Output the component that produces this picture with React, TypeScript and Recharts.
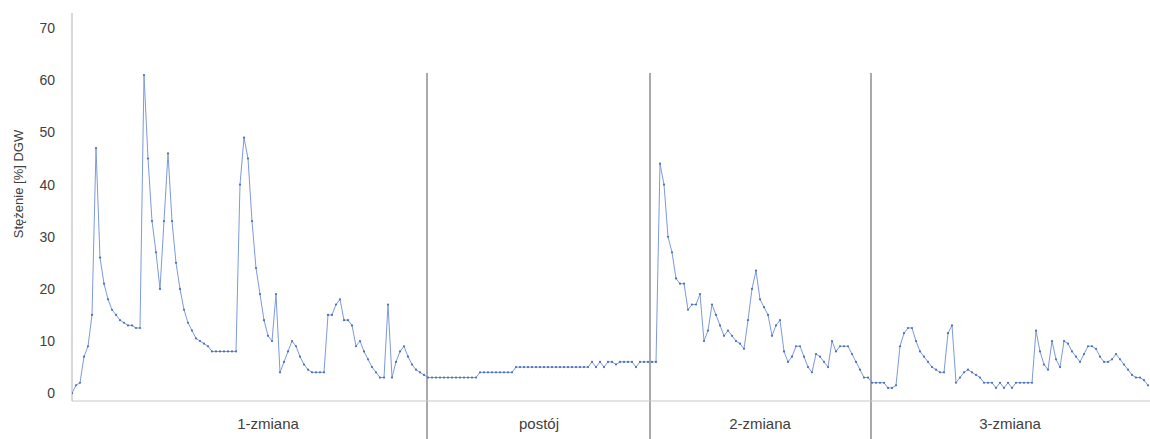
import React from 'react'
import {
  LineChart,
  Line,
  XAxis,
  YAxis,
  ReferenceLine,
} from 'recharts'

// readings sampled at equal time steps, one array per period
const zmiana1 = [
  0, 1.5, 2, 7, 9, 15, 47, 26, 21, 18,
  16, 15, 14, 13.5, 13, 13, 12.5, 12.5, 61, 45,
  33, 27, 20, 33, 46, 33, 25, 20, 16, 13.5,
  12, 10.5, 10, 9.5, 9, 8, 8, 8, 8, 8,
  8, 8, 40, 49, 45, 33, 24, 19, 14, 11,
  10, 19, 4, 6, 8, 10, 9, 7, 5.5, 4.5,
  4, 4, 4, 4, 15, 15, 17, 18, 14, 14,
  13, 9, 10, 8, 6.5, 5, 4, 3, 3, 17,
  3, 6, 8, 9, 7, 5.5, 4.5, 4, 3.5,
]
const postoj = [
  3, 3, 3, 3, 3, 3, 3, 3, 3, 3, 3, 3, 3,
  4, 4, 4, 4, 4, 4, 4, 4, 4,
  5, 5, 5, 5, 5, 5, 5, 5, 5, 5, 5, 5, 5, 5, 5, 5, 5, 5, 5,
  6, 5, 6, 5, 6, 6, 5.5, 6, 6, 6, 6, 5, 6, 6, 6,
]
const zmiana2 = [
  6, 6, 44, 40, 30, 27, 22, 21, 21, 16,
  17, 17, 19, 10, 12, 17, 15, 13, 11, 12,
  11, 10, 9.5, 8.5, 14, 20, 23.5, 18, 16.5, 15,
  11, 13, 14, 8, 6, 7, 9, 9, 7, 5,
  4, 7.5, 7, 6, 5, 10, 8, 9, 9, 9,
  7.5, 6, 4.5, 3, 3,
]
const zmiana3 = [
  2, 2, 2, 2, 1, 1, 1.5, 9, 11.5, 12.5,
  12.5, 10, 8, 7, 6, 5, 4.5, 4, 4, 11.5,
  13, 2, 3, 4, 4.5, 4, 3.5, 3, 2, 2,
  2, 1, 2, 1, 2, 1, 2, 2, 2, 2,
  2, 12, 8, 5.5, 4.5, 10, 6.5, 5, 10, 9.5,
  8, 7, 6, 7.5, 9, 9, 8.5, 7, 6, 6,
  6.5, 7.5, 6.5, 5.5, 4.5, 3.5, 3, 3, 2.5, 1.5,
]

const periodNames = ['1-zmiana', 'postój', '2-zmiana', '3-zmiana']
const periodLabelAt = [49, 116.75, 172, 234.5]
const periodBreaks = [88.75, 144.5, 199.75]
const yTicks = [0, 10, 20, 30, 40, 50, 60, 70]

const values = [...zmiana1, ...postoj, ...zmiana2, ...zmiana3]
const data = values.map((v, i) => ({ t: i, v }))

const font = '"Liberation Sans", Arial, sans-serif'

export default function App() {
  return (
    <div style={{ position: 'fixed', left: 0, top: 0, width: 1150, height: 439, background: '#fff' }}>
      <LineChart
        width={1150}
        height={439}
        data={data}
        margin={{ top: 13, right: 0, bottom: 0, left: 0 }}
      >
        <XAxis
          dataKey="t"
          type="number"
          domain={[0, 269.5]}
          allowDataOverflow
          ticks={periodLabelAt}
          tickFormatter={(v) => periodNames[periodLabelAt.indexOf(v)] ?? ''}
          tickLine={false}
          tickSize={6}
          tickMargin={11}
          height={38}
          stroke="#c8c8c8"
          tick={{ fill: '#404040', fontSize: 15, fontFamily: font }}
        />
        <YAxis
          type="number"
          domain={[-1.5, 72.9]}
          allowDataOverflow
          ticks={yTicks}
          width={72}
          tickLine={false}
          tickSize={6}
          tickMargin={11}
          stroke="#b0b0b0"
          tick={{ fill: '#404040', fontSize: 14, fontFamily: font }}
          label={{
            content: () => (
              <text
                x={18}
                y={184}
                transform="rotate(-90, 18, 184)"
                textAnchor="middle"
                dominantBaseline="central"
                fill="#404040"
                fontSize={13}
                fontFamily={font}
              >
                Stężenie [%] DGW
              </text>
            ),
          }}
        />
        {periodBreaks.map((b) => (
          <ReferenceLine
            key={b}
            segment={[{ x: b, y: 61.4 }, { x: b, y: -9 }]}
            ifOverflow="visible"
            stroke="#555"
            strokeWidth={1}
          />
        ))}
        <Line
          type="linear"
          dataKey="v"
          stroke="#7d9ad9"
          strokeWidth={1}
          dot={{ r: 1.1, fill: '#4a6fc0', stroke: 'none' }}
          isAnimationActive={false}
        />
      </LineChart>
    </div>
  )
}
